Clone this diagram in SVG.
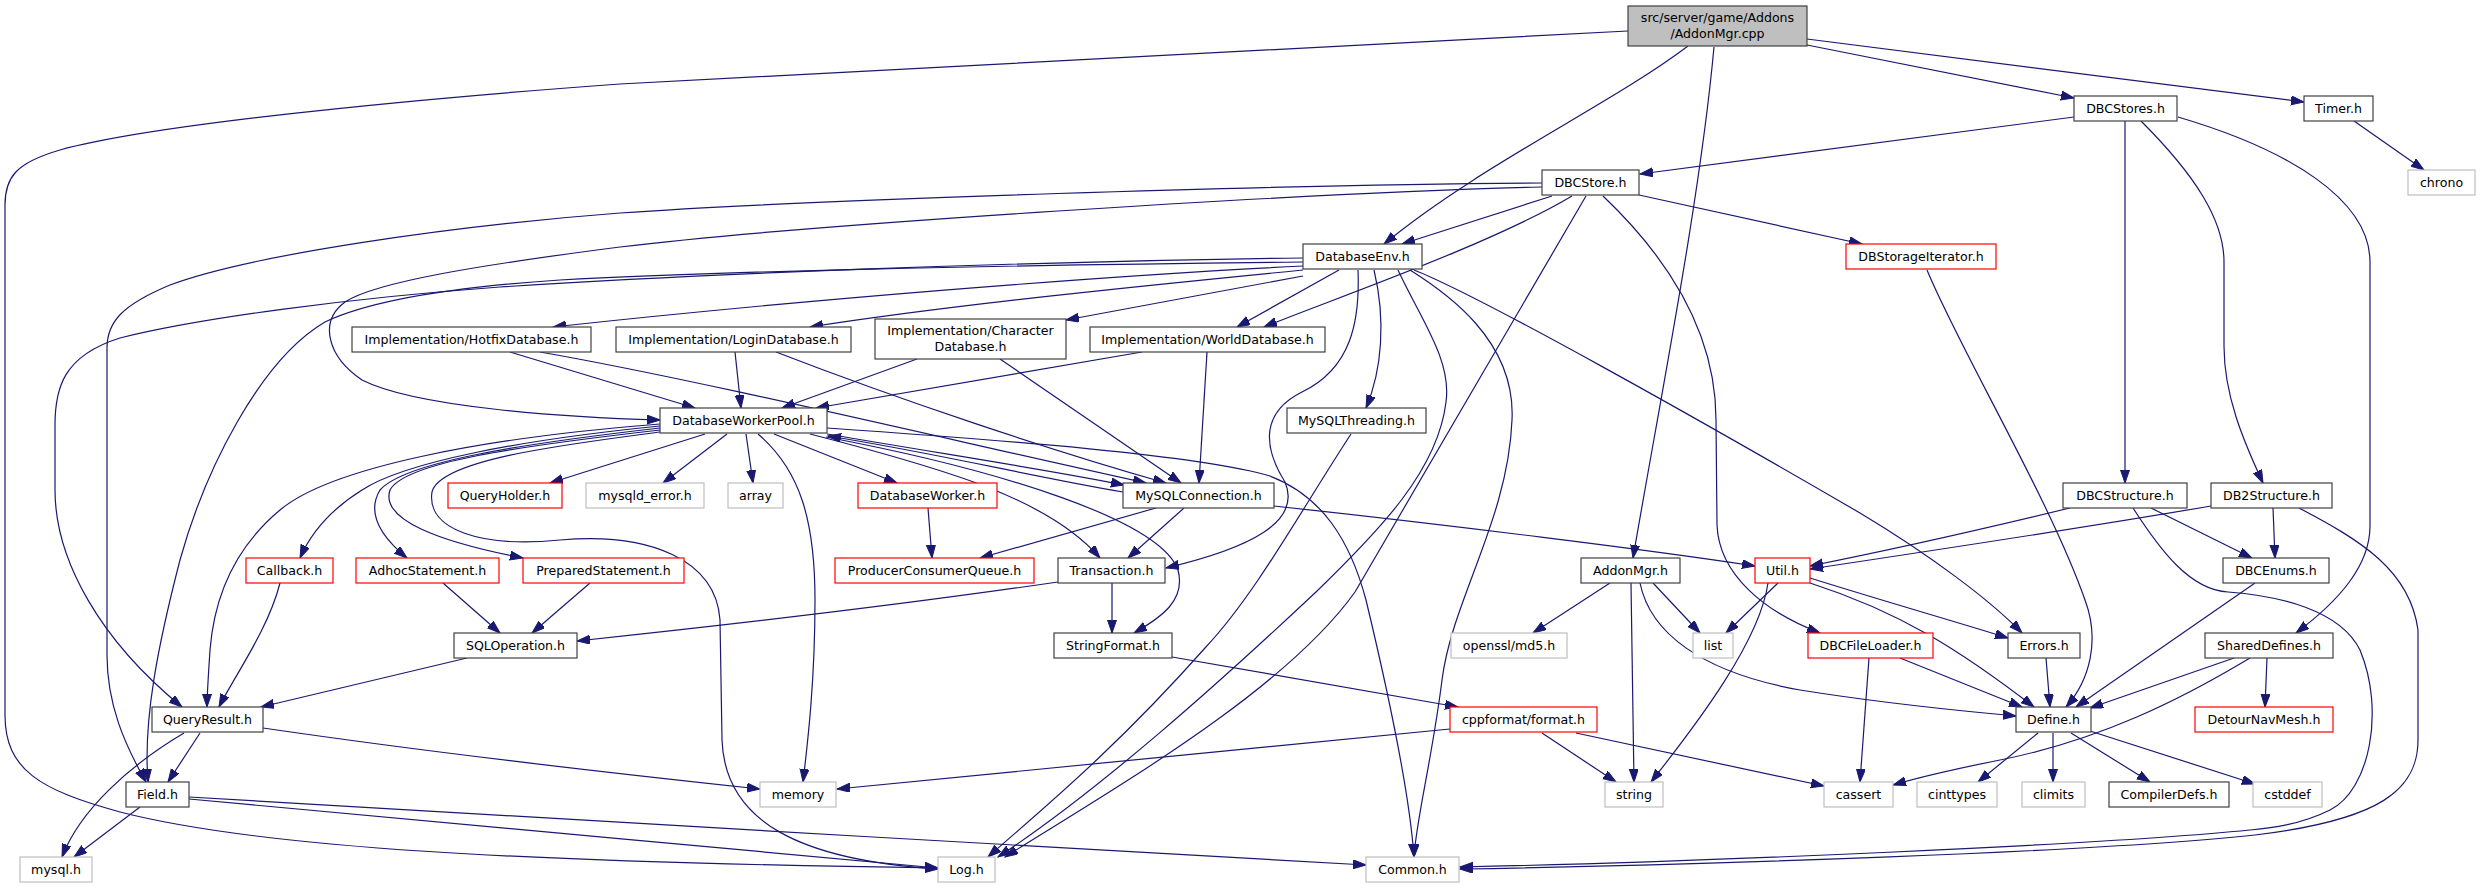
<svg xmlns="http://www.w3.org/2000/svg" width="2480" height="888" viewBox="0 0 2480 888">
<style>
.n rect{fill:#fff;stroke:#404040;stroke-width:1.2}
.r rect{stroke:#ff0000}
.g rect{stroke:#bfbfbf}
.root rect{fill:#bfbfbf}
text{font-family:"DejaVu Sans",sans-serif;font-size:12.6px;text-anchor:middle;fill:#000}
#edges path{fill:none;stroke:#191970;stroke-width:1.2;marker-end:url(#a)}
</style>
<defs>
<marker id="a" markerUnits="userSpaceOnUse" markerWidth="14" markerHeight="10" refX="13" refY="4.5" orient="auto"><path d="M0,0 L13,4.5 L0,9 z" fill="#191970" stroke="#191970" stroke-width="1"/></marker>
</defs>
<rect width="2480" height="888" fill="#fff"/>
<g id="edges">
<path d="M1628,31 L620,84 C400,100 150,125 60,150 C15,163 5,178 5,205 L5,715 C5,770 40,790 120,812 C260,848 520,862 938,868"/>
<path d="M1688,46 C1610,105 1480,165 1384,244"/>
<path d="M1714,47 C1700,200 1660,400 1633,558"/>
<path d="M1807,45 L2074,98"/>
<path d="M1807,39 L2304,102"/>
<path d="M2074,117 L1640,174"/>
<path d="M2125,121 L2125,483"/>
<path d="M2141,121 C2195,175 2224,220 2224,262 L2224,346 C2224,395 2243,440 2263,483"/>
<path d="M2178,117 C2290,150 2370,200 2370,262 L2370,526 C2370,565 2340,600 2296,633"/>
<path d="M2354,121 L2424,170"/>
<path d="M1552,196 L1402,244"/>
<path d="M1572,196 C1490,245 1330,300 1264,327"/>
<path d="M1586,196 L1355,592 C1285,690 1120,785 1005,857"/>
<path d="M1603,196 C1665,255 1716,330 1716,420 L1717,525 C1719,575 1765,612 1820,633"/>
<path d="M1639,195 L1862,244"/>
<path d="M1542,183 C1300,184 800,200 620,213 C450,226 250,255 170,285 C122,305 107,322 107,348 L107,655 C107,705 125,745 146,782"/>
<path d="M1542,187 C1300,193 800,225 620,247 C480,265 375,282 345,302 C318,322 328,357 362,380 C415,407 560,417 660,420"/>
<path d="M1303,262 C1000,265 700,272 560,280 C440,288 365,303 325,322 C260,360 205,470 180,560 C158,645 143,720 148,782"/>
<path d="M1303,258 C1000,262 700,274 500,287 C350,298 200,318 120,338 C62,356 55,390 55,425 L55,490 C55,560 100,640 182,707"/>
<path d="M1303,266 C1100,276 800,300 553,327"/>
<path d="M1303,270 C1150,285 950,305 810,327"/>
<path d="M1303,276 C1230,290 1150,305 1066,320"/>
<path d="M1339,270 L1237,327"/>
<path d="M1358,270 C1360,320 1352,368 1302,392 C1262,412 1262,445 1285,482 C1302,522 1250,548 1166,568"/>
<path d="M1374,270 C1386,320 1382,370 1366,408"/>
<path d="M1398,270 C1420,318 1452,360 1446,402 C1438,470 1380,530 1316,592 C1220,682 1100,790 998,857"/>
<path d="M1351,434 C1300,512 1255,595 1205,648 C1110,755 1035,815 988,857"/>
<path d="M1410,270 C1445,292 1516,340 1512,420 C1508,520 1452,600 1442,680 C1432,760 1416,820 1414,857"/>
<path d="M1414,270 C1480,296 1700,420 1860,513 C1930,555 1990,600 2022,633"/>
<path d="M705,434 L550,483"/>
<path d="M727,434 L663,483"/>
<path d="M746,434 L753,483"/>
<path d="M774,434 L897,483"/>
<path d="M758,434 C800,470 815,520 815,600 C815,680 808,740 803,782"/>
<path d="M660,432 C560,445 440,460 432,492 C426,530 482,548 560,540 C650,532 716,560 720,620 L722,740 C725,822 800,860 938,869"/>
<path d="M660,426 C520,440 405,462 362,490 C330,510 310,535 300,558"/>
<path d="M660,424 C480,438 330,468 280,510 C232,550 214,600 210,650 C208,680 207,695 207,707"/>
<path d="M660,428 C520,444 405,462 380,490 C365,515 385,540 407,558"/>
<path d="M660,430 C520,446 405,462 390,490 C380,520 440,542 523,558"/>
<path d="M510,352 L695,408"/>
<path d="M540,352 C700,380 950,440 1146,483"/>
<path d="M735,352 L741,408"/>
<path d="M776,352 C900,400 1050,450 1166,483"/>
<path d="M917,359 L782,408"/>
<path d="M1000,359 L1181,483"/>
<path d="M1142,352 L816,408"/>
<path d="M1207,352 L1199,483"/>
<path d="M827,434 C950,455 1050,470 1124,485"/>
<path d="M1123,492 C1030,476 930,452 828,436"/>
<path d="M810,434 C950,470 1050,500 1100,558"/>
<path d="M826,437 C1000,470 1160,520 1178,570 C1186,600 1162,617 1134,633"/>
<path d="M827,428 C1000,440 1200,455 1270,476 C1322,496 1350,540 1366,600 C1390,700 1410,800 1414,857"/>
<path d="M928,508 L932,558"/>
<path d="M1156,508 L980,558"/>
<path d="M1184,508 L1128,558"/>
<path d="M1274,506 C1450,525 1650,550 1755,566"/>
<path d="M1058,582 C900,605 700,628 577,641"/>
<path d="M1112,583 L1112,633"/>
<path d="M280,583 C268,630 235,675 219,707"/>
<path d="M443,583 L500,633"/>
<path d="M590,583 L532,633"/>
<path d="M467,658 L261,707"/>
<path d="M200,733 L168,782"/>
<path d="M184,733 C130,765 80,810 62,857"/>
<path d="M263,728 C400,748 600,772 760,789"/>
<path d="M140,807 L74,857"/>
<path d="M189,799 C400,820 700,845 938,868"/>
<path d="M189,797 C500,815 1000,845 1366,865"/>
<path d="M1172,657 L1458,707"/>
<path d="M1450,729 L837,789"/>
<path d="M1542,733 L1616,782"/>
<path d="M1576,733 L1824,786"/>
<path d="M1610,583 L1533,633"/>
<path d="M1631,583 L1634,782"/>
<path d="M1653,583 L1700,633"/>
<path d="M1640,583 C1650,632 1700,672 1800,690 C1900,706 1975,712 2016,716"/>
<path d="M1778,583 L1726,633"/>
<path d="M1768,583 C1760,640 1700,720 1651,782"/>
<path d="M1810,578 C1880,600 1950,620 2008,638"/>
<path d="M1810,583 C1900,612 1960,650 2034,707"/>
<path d="M1900,658 L2022,707"/>
<path d="M1869,658 L1860,782"/>
<path d="M2046,658 L2050,707"/>
<path d="M2255,583 L2076,707"/>
<path d="M2234,658 L2090,708"/>
<path d="M2250,658 C2180,700 2100,740 2000,760 C1950,770 1920,777 1893,785"/>
<path d="M2267,658 L2265,707"/>
<path d="M2038,733 L1978,782"/>
<path d="M2053,733 L2053,782"/>
<path d="M2071,733 L2150,782"/>
<path d="M2090,731 L2255,784"/>
<path d="M2070,508 C2000,525 1900,548 1810,566"/>
<path d="M2211,506 C2100,525 1950,548 1810,569"/>
<path d="M2151,508 L2252,558"/>
<path d="M2273,508 L2275,558"/>
<path d="M2133,508 C2160,550 2190,590 2228,592 C2280,596 2340,610 2360,650 C2385,710 2370,790 2330,810 C2300,825 2270,828 2250,830 C2100,845 1700,862 1460,867"/>
<path d="M2299,508 C2360,540 2410,570 2418,630 L2418,740 C2418,790 2380,820 2255,835 C2100,852 1700,865 1460,869"/>
<path d="M1927,270 C1960,350 2050,500 2085,600 C2100,640 2090,680 2066,707"/>
</g>
<g id="n_root" class="n root"><rect x="1628" y="6" width="179" height="40"/><text x="1717.5" y="22">src/server/game/Addons</text><text x="1717.5" y="38">/AddonMgr.cpp</text></g>
<g id="n_dbcstores" class="n"><rect x="2074" y="96" width="103" height="25"/><text x="2125.5" y="113">DBCStores.h</text></g>
<g id="n_timer" class="n"><rect x="2304" y="96" width="69" height="25"/><text x="2338.5" y="113">Timer.h</text></g>
<g id="n_dbcstore" class="n"><rect x="1542" y="170" width="97" height="25"/><text x="1590.5" y="187">DBCStore.h</text></g>
<g id="n_chrono" class="n g"><rect x="2408" y="170" width="67" height="25"/><text x="2441.5" y="187">chrono</text></g>
<g id="n_dbenv" class="n"><rect x="1303" y="244" width="119" height="25"/><text x="1362.5" y="261">DatabaseEnv.h</text></g>
<g id="n_dbsi" class="n r"><rect x="1846" y="244" width="150" height="25"/><text x="1921" y="261">DBStorageIterator.h</text></g>
<g id="n_hotfix" class="n"><rect x="352" y="327" width="239" height="25"/><text x="471.5" y="344">Implementation/HotfixDatabase.h</text></g>
<g id="n_login" class="n"><rect x="616" y="327" width="235" height="25"/><text x="733.5" y="344">Implementation/LoginDatabase.h</text></g>
<g id="n_char" class="n"><rect x="875" y="319" width="191" height="40"/><text x="970.5" y="335">Implementation/Character</text><text x="970.5" y="351">Database.h</text></g>
<g id="n_world" class="n"><rect x="1090" y="327" width="235" height="25"/><text x="1207.5" y="344">Implementation/WorldDatabase.h</text></g>
<g id="n_dwp" class="n"><rect x="660" y="408" width="167" height="25"/><text x="743.5" y="425">DatabaseWorkerPool.h</text></g>
<g id="n_mythr" class="n"><rect x="1287" y="408" width="139" height="25"/><text x="1356.5" y="425">MySQLThreading.h</text></g>
<g id="n_qholder" class="n r"><rect x="448" y="483" width="114" height="25"/><text x="505" y="500">QueryHolder.h</text></g>
<g id="n_myerr" class="n g"><rect x="586" y="483" width="118" height="25"/><text x="645" y="500">mysqld_error.h</text></g>
<g id="n_array" class="n g"><rect x="728" y="483" width="55" height="25"/><text x="755.5" y="500">array</text></g>
<g id="n_dbworker" class="n r"><rect x="858" y="483" width="139" height="25"/><text x="927.5" y="500">DatabaseWorker.h</text></g>
<g id="n_myconn" class="n"><rect x="1123" y="483" width="151" height="25"/><text x="1198.5" y="500">MySQLConnection.h</text></g>
<g id="n_dbcstruct" class="n"><rect x="2063" y="483" width="124" height="25"/><text x="2125" y="500">DBCStructure.h</text></g>
<g id="n_db2struct" class="n"><rect x="2211" y="483" width="121" height="25"/><text x="2271.5" y="500">DB2Structure.h</text></g>
<g id="n_callback" class="n r"><rect x="246" y="558" width="87" height="25"/><text x="289.5" y="575">Callback.h</text></g>
<g id="n_adhoc" class="n r"><rect x="356" y="558" width="143" height="25"/><text x="427.5" y="575">AdhocStatement.h</text></g>
<g id="n_prep" class="n r"><rect x="523" y="558" width="161" height="25"/><text x="603.5" y="575">PreparedStatement.h</text></g>
<g id="n_pcq" class="n r"><rect x="835" y="558" width="199" height="25"/><text x="934.5" y="575">ProducerConsumerQueue.h</text></g>
<g id="n_trans" class="n"><rect x="1058" y="558" width="107" height="25"/><text x="1111.5" y="575">Transaction.h</text></g>
<g id="n_addonh" class="n"><rect x="1581" y="558" width="99" height="25"/><text x="1630.5" y="575">AddonMgr.h</text></g>
<g id="n_util" class="n r"><rect x="1755" y="558" width="55" height="25"/><text x="1782.5" y="575">Util.h</text></g>
<g id="n_dbcenums" class="n"><rect x="2223" y="558" width="106" height="25"/><text x="2276" y="575">DBCEnums.h</text></g>
<g id="n_sqlop" class="n"><rect x="454" y="633" width="123" height="25"/><text x="515.5" y="650">SQLOperation.h</text></g>
<g id="n_strfmt" class="n"><rect x="1054" y="633" width="118" height="25"/><text x="1113" y="650">StringFormat.h</text></g>
<g id="n_md5" class="n g"><rect x="1451" y="633" width="116" height="25"/><text x="1509" y="650">openssl/md5.h</text></g>
<g id="n_list" class="n g"><rect x="1693" y="633" width="40" height="25"/><text x="1713" y="650">list</text></g>
<g id="n_dbcfl" class="n r"><rect x="1808" y="633" width="125" height="25"/><text x="1870.5" y="650">DBCFileLoader.h</text></g>
<g id="n_errors" class="n"><rect x="2008" y="633" width="72" height="25"/><text x="2044" y="650">Errors.h</text></g>
<g id="n_shared" class="n"><rect x="2205" y="633" width="128" height="25"/><text x="2269" y="650">SharedDefines.h</text></g>
<g id="n_qresult" class="n"><rect x="152" y="707" width="111" height="25"/><text x="207.5" y="724">QueryResult.h</text></g>
<g id="n_cppfmt" class="n r"><rect x="1450" y="707" width="147" height="25"/><text x="1523.5" y="724">cppformat/format.h</text></g>
<g id="n_define" class="n"><rect x="2016" y="707" width="75" height="25"/><text x="2053.5" y="724">Define.h</text></g>
<g id="n_detour" class="n r"><rect x="2195" y="707" width="138" height="25"/><text x="2264" y="724">DetourNavMesh.h</text></g>
<g id="n_field" class="n"><rect x="126" y="782" width="63" height="25"/><text x="157.5" y="799">Field.h</text></g>
<g id="n_memory" class="n g"><rect x="760" y="782" width="76" height="25"/><text x="798" y="799">memory</text></g>
<g id="n_string" class="n g"><rect x="1605" y="782" width="58" height="25"/><text x="1634" y="799">string</text></g>
<g id="n_cassert" class="n g"><rect x="1824" y="782" width="69" height="25"/><text x="1858.5" y="799">cassert</text></g>
<g id="n_cinttypes" class="n g"><rect x="1917" y="782" width="80" height="25"/><text x="1957" y="799">cinttypes</text></g>
<g id="n_climits" class="n g"><rect x="2022" y="782" width="63" height="25"/><text x="2053.5" y="799">climits</text></g>
<g id="n_compdefs" class="n"><rect x="2109" y="782" width="120" height="25"/><text x="2169" y="799">CompilerDefs.h</text></g>
<g id="n_cstddef" class="n g"><rect x="2253" y="782" width="69" height="25"/><text x="2287.5" y="799">cstddef</text></g>
<g id="n_mysql" class="n g"><rect x="20" y="857" width="72" height="25"/><text x="56" y="874">mysql.h</text></g>
<g id="n_log" class="n g"><rect x="938" y="857" width="57" height="25"/><text x="966.5" y="874">Log.h</text></g>
<g id="n_common" class="n g"><rect x="1366" y="857" width="93" height="25"/><text x="1412.5" y="874">Common.h</text></g>
</svg>
